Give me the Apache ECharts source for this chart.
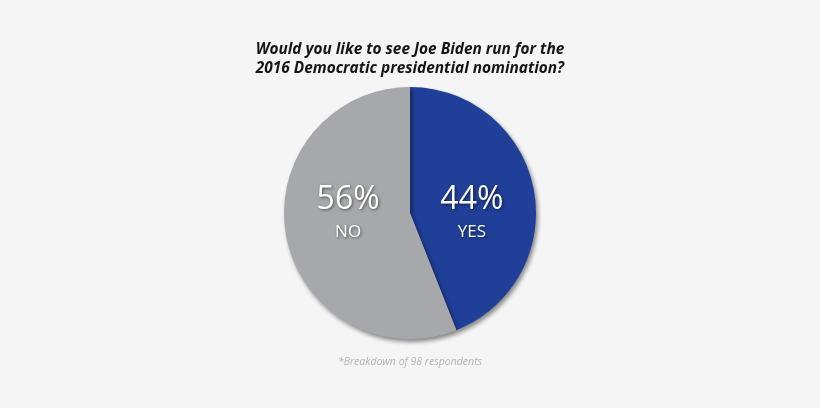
<!DOCTYPE html>
<html><head><meta charset="utf-8">
<script src="https://cdn.jsdelivr.net/npm/echarts@6/dist/echarts.min.js"></script>
<style>html,body{margin:0;padding:0;background:#f5f5f5;}#c{width:820px;height:408px;}</style>
</head><body><div id="c"></div>
<script>
const categories = ['YES', 'NO'];
const values = [44, 56];
const colors = ['#203f98', '#a7a8ab'];
const titleLines = ['Would you like to see Joe Biden run for the', '2016 Democratic presidential nomination?'];
const footnote = '*Breakdown of 98 respondents';

const shadow = { textShadowColor: 'rgba(0,0,0,0.55)', textShadowBlur: 3, textShadowOffsetX: 1, textShadowOffsetY: 1 };
const chart = echarts.init(document.getElementById('c'));

// labels sit at the slice's mid-angle horizontally, but level with the pie centre
function placeLabel(params) {
  let lay = null;
  try { lay = chart.getModel().getSeriesByIndex(0).getData().getItemLayout(params.dataIndex); } catch (e) { lay = null; }
  if (!lay) return {};
  const mid = (lay.startAngle + lay.endAngle) / 2;
  const rr = ((lay.r0 || 0) + lay.r) / 2;
  return { x: lay.cx + rr * Math.cos(mid), y: lay.cy + 2, align: 'center', verticalAlign: 'middle' };
}

chart.setOption({
  backgroundColor: '#f5f5f5',
  title: [{
    text: titleLines.join('\n'),
    left: 'center', top: 35,
    textStyle: { fontFamily: 'Open Sans', fontStyle: 'italic', fontWeight: 'bold', fontSize: 15.4, lineHeight: 19, color: '#151515' }
  }, {
    text: footnote,
    left: 'center', top: 352,
    textStyle: { fontFamily: 'Open Sans', fontStyle: 'italic', fontWeight: 'normal', fontSize: 10.5, color: '#b3b3b3' }
  }],
  series: [{
    type: 'pie',
    center: [410, 213],
    radius: [0, 126],
    startAngle: 90,
    clockwise: true,
    silent: true,
    avoidLabelOverlap: false,
    itemStyle: { shadowBlur: 4, shadowOffsetX: 2, shadowOffsetY: 3, shadowColor: 'rgba(0,0,0,0.45)' },
    label: {
      position: 'inside',
      align: 'center',
      verticalAlign: 'middle',
      formatter: p => '{v|' + p.value + '%}\n{n|' + p.name + '}',
      rich: {
        v: Object.assign({ fontFamily: 'Open Sans', fontSize: 32, color: '#fff', lineHeight: 34 }, shadow),
        n: Object.assign({ fontFamily: 'Open Sans', fontSize: 17, color: '#fff', lineHeight: 30 }, shadow)
      }
    },
    labelLayout: placeLabel,
    labelLine: { show: false },
    data: categories.map((c, i) => ({ name: c, value: values[i], itemStyle: { color: colors[i] } }))
  }]
});
</script></body></html>
